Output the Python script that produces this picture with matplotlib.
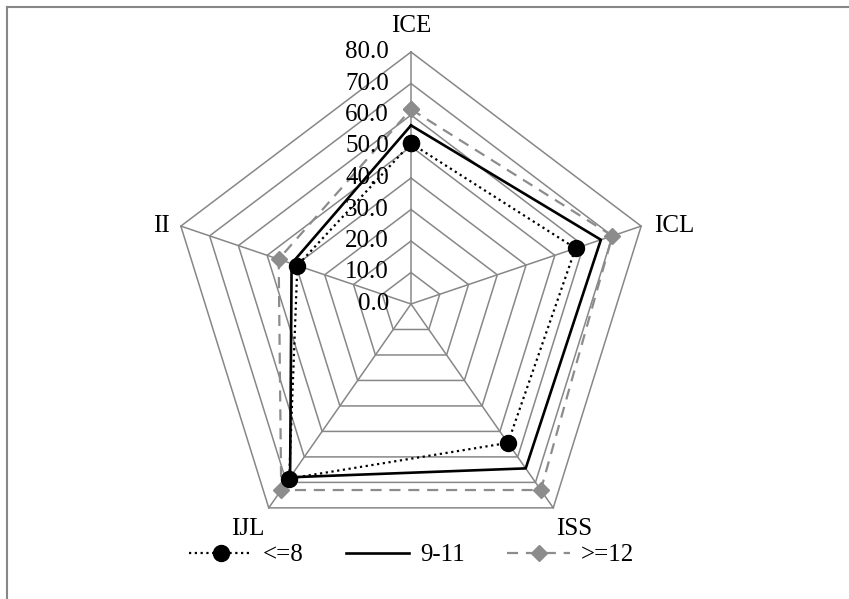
import numpy as np
import matplotlib.pyplot as plt
from matplotlib.lines import Line2D

# данные
categories = ['ICE', 'ICL', 'ISS', 'IJL', 'II']
le8 = [51.0, 57.2, 54.5, 68.5, 39.5]
mid = [56.7, 66.0, 64.5, 68.0, 41.5]
ge12 = [61.8, 70.0, 73.0, 73.0, 46.0]
levels = [0, 10, 20, 30, 40, 50, 60, 70, 80]

plt.rcParams['font.family'] = ['Liberation Serif', 'DejaVu Serif']

theta = np.deg2rad(np.arange(len(categories)) * 72.0)
theta_c = np.append(theta, theta[0])

def closed(v):
    return np.append(v, v[0])

fig = plt.figure(figsize=(8.49, 5.99), dpi=100)
ax = fig.add_axes([169 / 849, 43 / 599, 484 / 849, 504 / 599], projection='polar')
ax.set_aspect('auto')
ax.set_theta_zero_location('N')
ax.set_theta_direction(-1)
ax.set_ylim(0, 80)
ax.grid(False)
ax.spines['polar'].set_visible(False)
ax.set_xticks([])
ax.set_yticks([])
ax.patch.set_visible(False)

grid_c = '#878787'
# сетка-многоугольники и лучи
for lv in levels[1:]:
    ax.plot(theta_c, [lv] * len(theta_c), color=grid_c, lw=1.1, zorder=1, clip_on=False)
for t in theta:
    ax.plot([t, t], [0, levels[-1]], color=grid_c, lw=1.1, zorder=1, clip_on=False)

# подписи шкалы
for lv in levels:
    ax.annotate(f'{lv:.1f}', xy=(0, lv), xytext=(-16, 0), textcoords='offset points',
                ha='right', va='center', fontsize=18)

# подписи категорий
offsets = [(0, 19, 'center'), (9, 0, 'left'), (15, -15, 'center'),
           (-15, -15, 'center'), (-8, 0, 'right')]
for t, name, (dx, dy, ha) in zip(theta, categories, offsets):
    ax.annotate(name, xy=(t, levels[-1]), xytext=(dx, dy), textcoords='offset points',
                ha=ha, va='center', fontsize=18)

# ряды
ax.plot(theta_c, closed(le8), color='black', ls=(0, (1, 1.6)), lw=1.6,
        marker='o', ms=11.5, label='<=8', zorder=4, clip_on=False)
ax.plot(theta_c, closed(mid), color='black', ls='-', lw=1.9,
        label='9-11', zorder=3, clip_on=False)
ax.plot(theta_c, closed(ge12), color='#8c8c8c', ls=(0, (5, 3.5)), lw=1.6,
        marker='D', ms=8.5, label='>=12', zorder=2, clip_on=False)

fig.legend(loc='center', bbox_to_anchor=(0.485, 1 - 555 / 599), ncol=3, frameon=False,
           fontsize=18, handlelength=2.5, handletextpad=0.45, columnspacing=1.7)

# рамка
fig.add_artist(Line2D([7 / 849, 7 / 849], [0, 1 - 7 / 599], color='#878787', lw=1.5))
fig.add_artist(Line2D([7 / 849, 1], [1 - 7 / 599, 1 - 7 / 599], color='#878787', lw=1.5))

fig.savefig('out.png', dpi=100)
